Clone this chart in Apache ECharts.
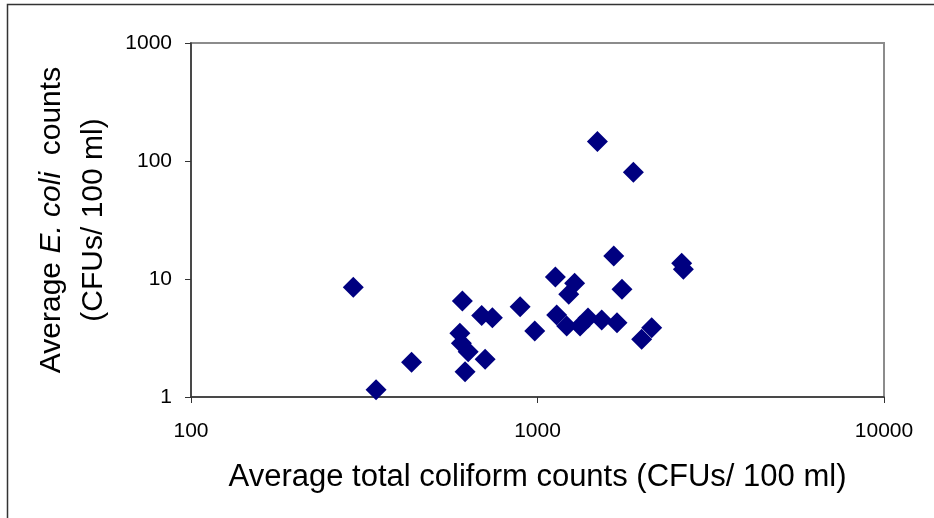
<!DOCTYPE html>
<html>
<head>
<meta charset="utf-8">
<script src="https://cdn.jsdelivr.net/npm/echarts@6/dist/echarts.min.js"></script>
<style>
html,body{margin:0;padding:0;background:#fff;}
#c{width:934px;height:518px;}
</style>
</head>
<body>
<div id="c"></div>
<script>
// Average total coliform counts (CFUs/100 ml)
var totalColiform = [294, 342, 433, 607, 690, 741, 597, 603, 631, 706, 618, 891, 982, 1126, 1231, 1280, 1136, 1214, 1327, 1399, 1532, 1696, 1660, 1753, 1998, 2136, 2607, 2636, 1489, 1891];
// Average E. coli counts (CFUs/100 ml)
var eColi = [8.5, 1.15, 1.97, 6.5, 4.9, 4.7, 3.47, 2.85, 2.42, 2.09, 1.64, 5.82, 3.63, 10.4, 7.42, 9.19, 4.95, 4.0, 4.0, 4.67, 4.49, 4.26, 15.7, 8.17, 3.08, 3.87, 13.6, 12.1, 146, 80.2];
var xTickLabels = ['100', '1000', '10000'];
var yTickLabels = ['1', '10', '100', '1000'];

var pts = totalColiform.map(function (x, i) { return [x, eColi[i]]; });
var FONT = '"Liberation Sans", Arial, sans-serif';

var chart = echarts.init(document.getElementById('c'), null, {renderer: 'canvas'});
chart.setOption({
  animation: false,
  backgroundColor: '#fff',
  grid: {left: 191, right: 50, top: 43, bottom: 121, show: true, borderColor: '#8c8c8c', borderWidth: 2, backgroundColor: 'transparent'},
  graphic: [{
    type: 'rect', silent: true,
    shape: {x: 7.5, y: 4.5, width: 1000, height: 1000},
    style: {fill: 'none', stroke: '#333', lineWidth: 1.5}
  }],
  xAxis: {
    type: 'log', logBase: 10, min: 100, max: 10000,
    axisLine: {show: true, lineStyle: {color: '#333', width: 1.5}},
    axisTick: {show: true, inside: false, length: 6, lineStyle: {color: '#333', width: 1}},
    splitLine: {show: false},
    axisLabel: {
      color: '#000', fontFamily: FONT, fontSize: 21, margin: 24,
      formatter: function (v) { var k = Math.round(Math.log10(v)) - 2; return xTickLabels[k] || ''; }
    },
    name: 'Average total coliform counts (CFUs/ 100 ml)',
    nameLocation: 'middle', nameGap: 65,
    nameTextStyle: {color: '#000', fontFamily: FONT, fontSize: 31}
  },
  yAxis: {
    type: 'log', logBase: 10, min: 1, max: 1000,
    axisLine: {show: true, lineStyle: {color: '#333', width: 1.5}},
    axisTick: {show: true, inside: false, length: 6, lineStyle: {color: '#333', width: 1}},
    splitLine: {show: false},
    axisLabel: {
      color: '#000', fontFamily: FONT, fontSize: 21, margin: 19,
      formatter: function (v) { var k = Math.round(Math.log10(v)); return yTickLabels[k] || ''; }
    },
    name: '{a|Average }{i|E. coli}{a|  counts}\n{a|(CFUs/ 100 ml)}',
    nameLocation: 'middle', nameGap: 76, nameRotate: 90,
    nameTextStyle: {
      color: '#000', fontFamily: FONT, fontSize: 30, lineHeight: 42, align: 'center',
      rich: {
        a: {color: '#000', fontFamily: FONT, fontSize: 30, lineHeight: 42},
        i: {color: '#000', fontFamily: FONT, fontSize: 30, lineHeight: 42, fontStyle: 'italic'}
      }
    }
  },
  series: [{
    type: 'scatter',
    data: pts,
    symbol: 'diamond',
    symbolSize: 21,
    itemStyle: {color: '#000080', opacity: 1},
    clip: false
  }]
});
</script>
</body>
</html>
